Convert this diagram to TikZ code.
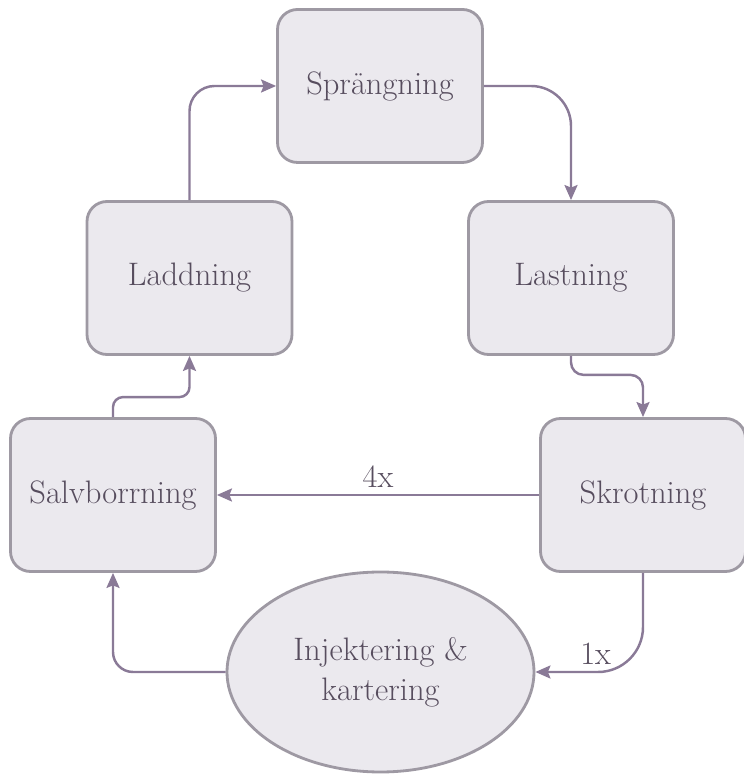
\documentclass[tikz,border=0pt]{standalone}
\usepackage{xcolor}
\usetikzlibrary{shapes.geometric,arrows.meta}

\definecolor{boxfill}{HTML}{EBE9EE}
\definecolor{boxline}{HTML}{9E99A3}
\definecolor{flow}{HTML}{8A7A97}
\definecolor{labeltext}{HTML}{574D5E}

\begin{document}
\begin{tikzpicture}[
    stage/.style={draw=boxline, fill=boxfill, line width=1.6pt, rounded corners=0.4cm,
      minimum width=4.1cm, minimum height=3.06cm, text=labeltext,
      font=\fontsize{18.5}{22.7}\selectfont},
    oval/.style={ellipse, draw=boxline, fill=boxfill, line width=1.6pt, inner sep=0pt,
      minimum width=6.14cm, minimum height=4cm, text=labeltext, align=center,
      font=\fontsize{18.5}{22.7}\selectfont},
    link/.style={draw=flow, line width=1.4pt, -{Stealth[length=0.3cm, width=0.26cm, inset=0.05cm]}},
    count/.style={text=labeltext, font=\fontsize{18.5}{22}\selectfont}
  ]

\useasboundingbox (0,0) rectangle (14.86,15.48);

% Draw the stages of the cycle
\node[stage] (spr) at (7.60,13.76) {Sprängning};
\node[stage] (ladd) at (3.79,9.92) {Laddning};
\node[stage] (last) at (11.42,9.92) {Lastning};
\node[stage] (salv) at (2.26,5.58) {Salvborrning};
\node[stage] (skrot) at (12.86,5.58) {Skrotning};
\node[oval] (inj) at (7.61,2.04) {Injektering \&\\kartering};

% Draw the connectors
\draw[link, rounded corners=0.5cm] (ladd.north) |- (spr.west);
\draw[link, rounded corners=0.8cm] (spr.east) -| (last.north);
\draw[link, rounded corners=0.25cm] (last.south) -- ++(0,-0.38) -| (skrot.north);
\draw[link] (skrot.west) -- node[count, above] {4x} (salv.east);
\draw[link, rounded corners=0.9cm] (skrot.south) |- node[count, above, pos=0.72] {1x} (inj.east);
\draw[link, rounded corners=0.4cm] (inj.west) -| (salv.south);
\draw[link, rounded corners=0.2cm] (salv.north) -- ++(0,0.4) -| (ladd.south);

\end{tikzpicture}
\end{document}
